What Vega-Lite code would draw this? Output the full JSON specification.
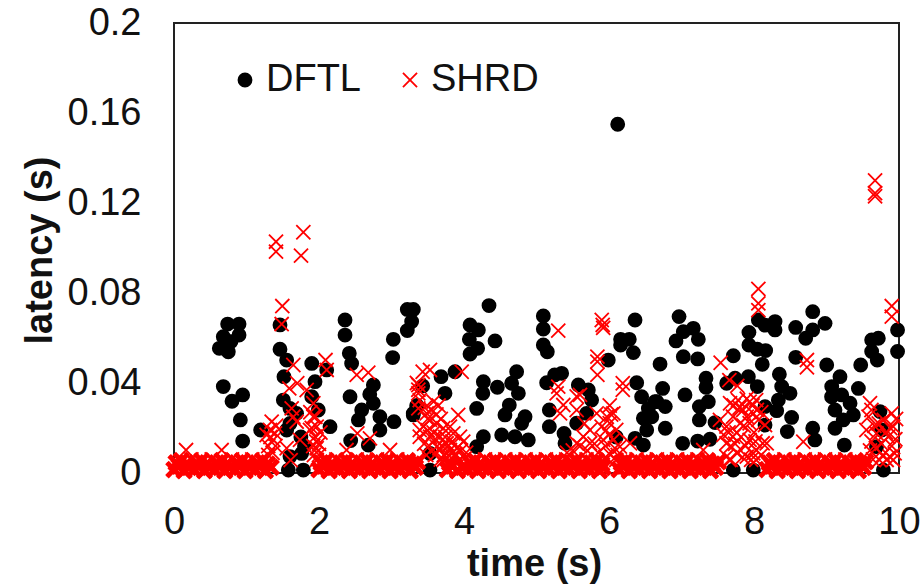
{"$schema":"https://vega.github.io/schema/vega-lite/v6.json","width":725,"height":450,"autosize":"none","padding":{"left":174,"top":23,"right":24,"bottom":111},"background":"white",
"config":{"font":"Liberation Sans","view":{"stroke":"#222","strokeWidth":2}},
"data":{"values":[
{"s":"DFTL","t":0.74,"v":0.0662},{"s":"DFTL","t":0.897,"v":0.0662},{"s":"DFTL","t":0.68,"v":0.0606},{"s":"DFTL","t":0.897,"v":0.0613},{"s":"DFTL","t":0.786,"v":0.0584},{"s":"DFTL","t":0.625,"v":0.0554},{"s":"DFTL","t":0.749,"v":0.0539},{"s":"DFTL","t":0.68,"v":0.0384},{"s":"DFTL","t":0.947,"v":0.0347},{"s":"DFTL","t":0.8,"v":0.0319},{"s":"DFTL","t":0.915,"v":0.0236},{"s":"DFTL","t":0.947,"v":0.0142},{"s":"DFTL","t":1.195,"v":0.0191},{"s":"DFTL","t":1.462,"v":0.0658},{"s":"DFTL","t":1.462,"v":0.055},{"s":"DFTL","t":1.554,"v":0.0502},{"s":"DFTL","t":1.517,"v":0.0428},{"s":"DFTL","t":1.508,"v":0.0324},{"s":"DFTL","t":1.6,"v":0.0287},{"s":"DFTL","t":1.69,"v":0.0265},{"s":"DFTL","t":1.554,"v":0.0191},{"s":"DFTL","t":1.6,"v":0.0073},{"s":"DFTL","t":1.76,"v":0.0087},{"s":"DFTL","t":1.784,"v":0.0013},{"s":"DFTL","t":1.577,"v":0.0013},{"s":"DFTL","t":1.9,"v":0.0487},{"s":"DFTL","t":1.945,"v":0.0406},{"s":"DFTL","t":1.9,"v":0.0339},{"s":"DFTL","t":1.99,"v":0.028},{"s":"DFTL","t":2.152,"v":0.0206},{"s":"DFTL","t":2.359,"v":0.068},{"s":"DFTL","t":2.359,"v":0.0613},{"s":"DFTL","t":2.418,"v":0.0532},{"s":"DFTL","t":2.45,"v":0.0487},{"s":"DFTL","t":2.106,"v":0.0458},{"s":"DFTL","t":2.428,"v":0.0339},{"s":"DFTL","t":2.75,"v":0.0391},{"s":"DFTL","t":2.75,"v":0.031},{"s":"DFTL","t":2.589,"v":0.028},{"s":"DFTL","t":2.543,"v":0.0236},{"s":"DFTL","t":2.84,"v":0.025},{"s":"DFTL","t":3.034,"v":0.0228},{"s":"DFTL","t":2.84,"v":0.0191},{"s":"DFTL","t":2.437,"v":0.0144},{"s":"DFTL","t":2.68,"v":0.0124},{"s":"DFTL","t":3.025,"v":0.0594},{"s":"DFTL","t":3.016,"v":0.0513},{"s":"DFTL","t":3.218,"v":0.0727},{"s":"DFTL","t":3.301,"v":0.0727},{"s":"DFTL","t":3.278,"v":0.0673},{"s":"DFTL","t":3.218,"v":0.0633},{"s":"DFTL","t":3.3,"v":0.0265},{"s":"DFTL","t":1.6,"v":0.022},{"s":"DFTL","t":1.75,"v":0.016},{"s":"DFTL","t":1.8,"v":0.012},{"s":"DFTL","t":2.7,"v":0.035},{"s":"DFTL","t":3.35,"v":0.03},{"s":"DFTL","t":4.345,"v":0.0744},{"s":"DFTL","t":4.083,"v":0.0658},{"s":"DFTL","t":4.198,"v":0.0636},{"s":"DFTL","t":4.074,"v":0.0594},{"s":"DFTL","t":4.428,"v":0.0587},{"s":"DFTL","t":4.188,"v":0.0554},{"s":"DFTL","t":4.083,"v":0.0529},{"s":"DFTL","t":5.094,"v":0.0698},{"s":"DFTL","t":5.094,"v":0.064},{"s":"DFTL","t":5.094,"v":0.0569},{"s":"DFTL","t":5.149,"v":0.0539},{"s":"DFTL","t":6.359,"v":0.068},{"s":"DFTL","t":5.99,"v":0.0502},{"s":"DFTL","t":6.16,"v":0.0569},{"s":"DFTL","t":6.28,"v":0.0594},{"s":"DFTL","t":6.336,"v":0.0535},{"s":"DFTL","t":6.16,"v":0.0594},{"s":"DFTL","t":6.704,"v":0.0484},{"s":"DFTL","t":3.683,"v":0.0428},{"s":"DFTL","t":3.876,"v":0.045},{"s":"DFTL","t":3.43,"v":0.0387},{"s":"DFTL","t":3.738,"v":0.0354},{"s":"DFTL","t":3.35,"v":0.0295},{"s":"DFTL","t":3.3,"v":0.0258},{"s":"DFTL","t":4.267,"v":0.0406},{"s":"DFTL","t":4.26,"v":0.0354},{"s":"DFTL","t":4.46,"v":0.0381},{"s":"DFTL","t":4.726,"v":0.045},{"s":"DFTL","t":4.657,"v":0.0399},{"s":"DFTL","t":4.75,"v":0.0354},{"s":"DFTL","t":4.175,"v":0.0287},{"s":"DFTL","t":4.625,"v":0.0302},{"s":"DFTL","t":4.565,"v":0.0258},{"s":"DFTL","t":4.842,"v":0.025},{"s":"DFTL","t":4.795,"v":0.0221},{"s":"DFTL","t":4.52,"v":0.0169},{"s":"DFTL","t":4.703,"v":0.0161},{"s":"DFTL","t":4.267,"v":0.0161},{"s":"DFTL","t":4.887,"v":0.0147},{"s":"DFTL","t":4.175,"v":0.0117},{"s":"DFTL","t":5.14,"v":0.0401},{"s":"DFTL","t":5.347,"v":0.0443},{"s":"DFTL","t":5.25,"v":0.0436},{"s":"DFTL","t":5.577,"v":0.0391},{"s":"DFTL","t":5.715,"v":0.0369},{"s":"DFTL","t":5.76,"v":0.0324},{"s":"DFTL","t":5.69,"v":0.0265},{"s":"DFTL","t":5.554,"v":0.0221},{"s":"DFTL","t":5.177,"v":0.028},{"s":"DFTL","t":5.177,"v":0.0206},{"s":"DFTL","t":5.38,"v":0.0176},{"s":"DFTL","t":5.393,"v":0.0132},{"s":"DFTL","t":6.382,"v":0.0401},{"s":"DFTL","t":6.45,"v":0.0339},{"s":"DFTL","t":6.74,"v":0.0376},{"s":"DFTL","t":6.66,"v":0.0317},{"s":"DFTL","t":6.776,"v":0.0295},{"s":"DFTL","t":6.543,"v":0.0287},{"s":"DFTL","t":6.474,"v":0.0243},{"s":"DFTL","t":6.59,"v":0.025},{"s":"DFTL","t":6.52,"v":0.0191},{"s":"DFTL","t":6.776,"v":0.0199},{"s":"DFTL","t":6.359,"v":0.0154},{"s":"DFTL","t":6.474,"v":0.0124},{"s":"DFTL","t":3.531,"v":0.0087},{"s":"DFTL","t":3.531,"v":0.0013},{"s":"DFTL","t":6.1,"v":0.016},{"s":"DFTL","t":6.966,"v":0.0695},{"s":"DFTL","t":7.163,"v":0.0643},{"s":"DFTL","t":7.025,"v":0.0628},{"s":"DFTL","t":6.924,"v":0.0587},{"s":"DFTL","t":7.232,"v":0.0594},{"s":"DFTL","t":7.025,"v":0.0517},{"s":"DFTL","t":7.223,"v":0.0507},{"s":"DFTL","t":7.048,"v":0.0347},{"s":"DFTL","t":6.634,"v":0.0317},{"s":"DFTL","t":7.338,"v":0.0421},{"s":"DFTL","t":7.338,"v":0.0381},{"s":"DFTL","t":7.37,"v":0.0317},{"s":"DFTL","t":7.246,"v":0.0295},{"s":"DFTL","t":7.246,"v":0.0236},{"s":"DFTL","t":7.463,"v":0.0224},{"s":"DFTL","t":7.016,"v":0.0132},{"s":"DFTL","t":7.223,"v":0.0142},{"s":"DFTL","t":7.393,"v":0.015},{"s":"DFTL","t":7.715,"v":0.0521},{"s":"DFTL","t":7.623,"v":0.0399},{"s":"DFTL","t":7.738,"v":0.0421},{"s":"DFTL","t":7.715,"v":0.0013},{"s":"DFTL","t":7.99,"v":0.0013},{"s":"DFTL","t":7.93,"v":0.0625},{"s":"DFTL","t":7.93,"v":0.0569},{"s":"DFTL","t":8.06,"v":0.068},{"s":"DFTL","t":8.152,"v":0.0657},{"s":"DFTL","t":8.29,"v":0.0673},{"s":"DFTL","t":8.29,"v":0.0636},{"s":"DFTL","t":8.046,"v":0.055},{"s":"DFTL","t":8.161,"v":0.0544},{"s":"DFTL","t":8.114,"v":0.0483},{"s":"DFTL","t":7.922,"v":0.0428},{"s":"DFTL","t":8.046,"v":0.0384},{"s":"DFTL","t":8.35,"v":0.0439},{"s":"DFTL","t":8.382,"v":0.0384},{"s":"DFTL","t":8.497,"v":0.0354},{"s":"DFTL","t":8.336,"v":0.0324},{"s":"DFTL","t":8.313,"v":0.0277},{"s":"DFTL","t":8.152,"v":0.0295},{"s":"DFTL","t":8.152,"v":0.0213},{"s":"DFTL","t":8.519,"v":0.0247},{"s":"DFTL","t":8.46,"v":0.0184},{"s":"DFTL","t":8.575,"v":0.0647},{"s":"DFTL","t":8.81,"v":0.0717},{"s":"DFTL","t":8.98,"v":0.0665},{"s":"DFTL","t":8.81,"v":0.0636},{"s":"DFTL","t":8.713,"v":0.0599},{"s":"DFTL","t":8.575,"v":0.0514},{"s":"DFTL","t":9.003,"v":0.048},{"s":"DFTL","t":9.186,"v":0.0428},{"s":"DFTL","t":9.472,"v":0.048},{"s":"DFTL","t":9.072,"v":0.0384},{"s":"DFTL","t":9.44,"v":0.0376},{"s":"DFTL","t":9.07,"v":0.0339},{"s":"DFTL","t":9.21,"v":0.0347},{"s":"DFTL","t":9.117,"v":0.028},{"s":"DFTL","t":9.325,"v":0.031},{"s":"DFTL","t":9.37,"v":0.0258},{"s":"DFTL","t":9.23,"v":0.0236},{"s":"DFTL","t":9.117,"v":0.0199},{"s":"DFTL","t":8.81,"v":0.0199},{"s":"DFTL","t":8.84,"v":0.0147},{"s":"DFTL","t":9.246,"v":0.0124},{"s":"DFTL","t":9.623,"v":0.0591},{"s":"DFTL","t":9.715,"v":0.0599},{"s":"DFTL","t":9.623,"v":0.054},{"s":"DFTL","t":9.7,"v":0.0502},{"s":"DFTL","t":9.98,"v":0.0636},{"s":"DFTL","t":9.98,"v":0.054},{"s":"DFTL","t":9.738,"v":0.0273},{"s":"DFTL","t":9.76,"v":0.0191},{"s":"DFTL","t":9.785,"v":0.0013},{"s":"DFTL","t":9.69,"v":0.0117},{"s":"DFTL","t":6.12,"v":0.155},
{"s":"SHRD","t":1.407,"v":0.1028},{"s":"SHRD","t":1.407,"v":0.0984},{"s":"SHRD","t":1.784,"v":0.107},{"s":"SHRD","t":1.752,"v":0.0966},{"s":"SHRD","t":1.494,"v":0.0742},{"s":"SHRD","t":1.485,"v":0.0662},{"s":"SHRD","t":1.646,"v":0.048},{"s":"SHRD","t":2.09,"v":0.0502},{"s":"SHRD","t":2.106,"v":0.0458},{"s":"SHRD","t":1.7,"v":0.0399},{"s":"SHRD","t":1.59,"v":0.0376},{"s":"SHRD","t":1.83,"v":0.0369},{"s":"SHRD","t":2.52,"v":0.0436},{"s":"SHRD","t":2.68,"v":0.0446},{"s":"SHRD","t":1.922,"v":0.031},{"s":"SHRD","t":1.623,"v":0.0287},{"s":"SHRD","t":1.347,"v":0.0228},{"s":"SHRD","t":1.324,"v":0.0191},{"s":"SHRD","t":1.393,"v":0.0176},{"s":"SHRD","t":1.278,"v":0.0169},{"s":"SHRD","t":1.37,"v":0.0147},{"s":"SHRD","t":1.646,"v":0.025},{"s":"SHRD","t":1.692,"v":0.0228},{"s":"SHRD","t":1.922,"v":0.025},{"s":"SHRD","t":1.968,"v":0.0206},{"s":"SHRD","t":1.876,"v":0.0191},{"s":"SHRD","t":1.945,"v":0.0161},{"s":"SHRD","t":1.968,"v":0.011},{"s":"SHRD","t":1.738,"v":0.0147},{"s":"SHRD","t":1.554,"v":0.011},{"s":"SHRD","t":1.609,"v":0.0057},{"s":"SHRD","t":2.529,"v":0.0176},{"s":"SHRD","t":2.703,"v":0.0154},{"s":"SHRD","t":0.166,"v":0.0102},{"s":"SHRD","t":0.657,"v":0.0102},{"s":"SHRD","t":2.98,"v":0.0102},{"s":"SHRD","t":2.38,"v":0.0102},{"s":"SHRD","t":3.37,"v":0.0391},{"s":"SHRD","t":3.37,"v":0.0354},{"s":"SHRD","t":3.37,"v":0.0287},{"s":"SHRD","t":3.39,"v":0.0191},{"s":"SHRD","t":1.93,"v":0.008},{"s":"SHRD","t":1.97,"v":0.0058},{"s":"SHRD","t":2.0,"v":0.013},{"s":"SHRD","t":1.3,"v":0.012},{"s":"SHRD","t":1.36,"v":0.009},{"s":"SHRD","t":5.3,"v":0.0633},{"s":"SHRD","t":5.9,"v":0.068},{"s":"SHRD","t":5.913,"v":0.0658},{"s":"SHRD","t":5.92,"v":0.0645},{"s":"SHRD","t":5.84,"v":0.0517},{"s":"SHRD","t":5.84,"v":0.0495},{"s":"SHRD","t":5.84,"v":0.0436},{"s":"SHRD","t":6.19,"v":0.0399},{"s":"SHRD","t":6.19,"v":0.037},{"s":"SHRD","t":3.968,"v":0.045},{"s":"SHRD","t":3.531,"v":0.0458},{"s":"SHRD","t":3.43,"v":0.045},{"s":"SHRD","t":3.35,"v":0.04},{"s":"SHRD","t":3.37,"v":0.037},{"s":"SHRD","t":3.39,"v":0.0324},{"s":"SHRD","t":3.58,"v":0.0317},{"s":"SHRD","t":3.65,"v":0.03},{"s":"SHRD","t":3.92,"v":0.0258},{"s":"SHRD","t":3.485,"v":0.0265},{"s":"SHRD","t":5.3,"v":0.0384},{"s":"SHRD","t":5.278,"v":0.0354},{"s":"SHRD","t":5.554,"v":0.034},{"s":"SHRD","t":5.6,"v":0.0347},{"s":"SHRD","t":5.37,"v":0.0302},{"s":"SHRD","t":5.554,"v":0.028},{"s":"SHRD","t":5.325,"v":0.0265},{"s":"SHRD","t":5.83,"v":0.0265},{"s":"SHRD","t":6.01,"v":0.03},{"s":"SHRD","t":6.06,"v":0.0265},{"s":"SHRD","t":5.97,"v":0.025},{"s":"SHRD","t":3.44,"v":0.0206},{"s":"SHRD","t":3.531,"v":0.0236},{"s":"SHRD","t":3.623,"v":0.0221},{"s":"SHRD","t":3.715,"v":0.0199},{"s":"SHRD","t":3.807,"v":0.0206},{"s":"SHRD","t":3.853,"v":0.0176},{"s":"SHRD","t":3.945,"v":0.0161},{"s":"SHRD","t":3.531,"v":0.0161},{"s":"SHRD","t":3.669,"v":0.0161},{"s":"SHRD","t":3.761,"v":0.0132},{"s":"SHRD","t":3.99,"v":0.0139},{"s":"SHRD","t":3.623,"v":0.0117},{"s":"SHRD","t":3.807,"v":0.0102},{"s":"SHRD","t":3.39,"v":0.0161},{"s":"SHRD","t":3.5,"v":0.019},{"s":"SHRD","t":3.58,"v":0.018},{"s":"SHRD","t":3.7,"v":0.012},{"s":"SHRD","t":3.6,"v":0.008},{"s":"SHRD","t":3.68,"v":0.006},{"s":"SHRD","t":3.72,"v":0.0058},{"s":"SHRD","t":5.646,"v":0.0161},{"s":"SHRD","t":5.738,"v":0.0191},{"s":"SHRD","t":5.554,"v":0.0132},{"s":"SHRD","t":5.898,"v":0.0206},{"s":"SHRD","t":6.01,"v":0.0221},{"s":"SHRD","t":6.1,"v":0.0191},{"s":"SHRD","t":6.06,"v":0.0147},{"s":"SHRD","t":5.92,"v":0.0147},{"s":"SHRD","t":6.15,"v":0.0117},{"s":"SHRD","t":6.29,"v":0.0132},{"s":"SHRD","t":5.738,"v":0.0132},{"s":"SHRD","t":8.06,"v":0.0818},{"s":"SHRD","t":8.06,"v":0.0754},{"s":"SHRD","t":8.06,"v":0.0724},{"s":"SHRD","t":7.54,"v":0.049},{"s":"SHRD","t":7.66,"v":0.0413},{"s":"SHRD","t":7.77,"v":0.0387},{"s":"SHRD","t":8.73,"v":0.0502},{"s":"SHRD","t":8.73,"v":0.047},{"s":"SHRD","t":9.9,"v":0.0742},{"s":"SHRD","t":9.9,"v":0.0695},{"s":"SHRD","t":9.6,"v":0.031},{"s":"SHRD","t":9.58,"v":0.025},{"s":"SHRD","t":9.9,"v":0.0265},{"s":"SHRD","t":9.79,"v":0.0236},{"s":"SHRD","t":9.92,"v":0.0206},{"s":"SHRD","t":9.55,"v":0.0191},{"s":"SHRD","t":9.69,"v":0.0176},{"s":"SHRD","t":9.85,"v":0.0161},{"s":"SHRD","t":9.94,"v":0.0087},{"s":"SHRD","t":9.83,"v":0.0058},{"s":"SHRD","t":9.87,"v":0.0073},{"s":"SHRD","t":9.73,"v":0.0058},{"s":"SHRD","t":8.152,"v":0.0213},{"s":"SHRD","t":8.68,"v":0.0139},{"s":"SHRD","t":8.175,"v":0.0132},{"s":"SHRD","t":7.53,"v":0.0236},{"s":"SHRD","t":7.67,"v":0.031},{"s":"SHRD","t":7.78,"v":0.0324},{"s":"SHRD","t":7.94,"v":0.0317},{"s":"SHRD","t":8.03,"v":0.0324},{"s":"SHRD","t":7.85,"v":0.028},{"s":"SHRD","t":7.99,"v":0.0265},{"s":"SHRD","t":7.71,"v":0.025},{"s":"SHRD","t":7.62,"v":0.0206},{"s":"SHRD","t":7.81,"v":0.0221},{"s":"SHRD","t":7.94,"v":0.0221},{"s":"SHRD","t":8.06,"v":0.0236},{"s":"SHRD","t":7.71,"v":0.0161},{"s":"SHRD","t":7.62,"v":0.0132},{"s":"SHRD","t":7.94,"v":0.0147},{"s":"SHRD","t":8.03,"v":0.0102},{"s":"SHRD","t":8.12,"v":0.0132},{"s":"SHRD","t":7.62,"v":0.0073},{"s":"SHRD","t":7.9,"v":0.0073},{"s":"SHRD","t":8.03,"v":0.0058},{"s":"SHRD","t":7.66,"v":0.0058},{"s":"SHRD","t":7.99,"v":0.0087},{"s":"SHRD","t":7.3,"v":0.0102},{"s":"SHRD","t":9.67,"v":0.13},{"s":"SHRD","t":9.67,"v":0.1244},{"s":"SHRD","t":9.67,"v":0.123},
{"s":"SHRD","t":3.46,"v":0.029},{"s":"SHRD","t":3.55,"v":0.028},{"s":"SHRD","t":3.62,"v":0.026},{"s":"SHRD","t":3.68,"v":0.024},{"s":"SHRD","t":3.5,"v":0.024},{"s":"SHRD","t":3.6,"v":0.015},{"s":"SHRD","t":3.66,"v":0.011},{"s":"SHRD","t":3.74,"v":0.016},{"s":"SHRD","t":3.78,"v":0.012},{"s":"SHRD","t":3.84,"v":0.014},{"s":"SHRD","t":3.9,"v":0.011},{"s":"SHRD","t":3.96,"v":0.01},{"s":"SHRD","t":4.03,"v":0.009},{"s":"SHRD","t":3.72,"v":0.008},{"s":"SHRD","t":3.8,"v":0.0075},{"s":"SHRD","t":3.88,"v":0.0085},{"s":"SHRD","t":3.45,"v":0.013},{"s":"SHRD","t":3.52,"v":0.012},{"s":"SHRD","t":3.48,"v":0.008},{"s":"SHRD","t":7.58,"v":0.017},{"s":"SHRD","t":7.65,"v":0.018},{"s":"SHRD","t":7.68,"v":0.012},{"s":"SHRD","t":7.74,"v":0.013},{"s":"SHRD","t":7.76,"v":0.018},{"s":"SHRD","t":7.82,"v":0.016},{"s":"SHRD","t":7.86,"v":0.021},{"s":"SHRD","t":7.9,"v":0.025},{"s":"SHRD","t":7.98,"v":0.03},{"s":"SHRD","t":8.0,"v":0.018},{"s":"SHRD","t":8.1,"v":0.027},{"s":"SHRD","t":8.02,"v":0.014},{"s":"SHRD","t":7.88,"v":0.012},{"s":"SHRD","t":7.76,"v":0.009},{"s":"SHRD","t":7.84,"v":0.007},{"s":"SHRD","t":7.68,"v":0.0059},{"s":"SHRD","t":7.96,"v":0.0059},{"s":"SHRD","t":8.1,"v":0.008},{"s":"SHRD","t":7.72,"v":0.03},{"s":"SHRD","t":7.8,"v":0.029},{"s":"SHRD","t":7.9,"v":0.033},{"s":"SHRD","t":8.04,"v":0.028},{"s":"SHRD","t":9.62,"v":0.028},{"s":"SHRD","t":9.66,"v":0.021},{"s":"SHRD","t":9.72,"v":0.022},{"s":"SHRD","t":9.62,"v":0.014},{"s":"SHRD","t":9.68,"v":0.011},{"s":"SHRD","t":9.76,"v":0.013},{"s":"SHRD","t":9.82,"v":0.018},{"s":"SHRD","t":9.88,"v":0.02},{"s":"SHRD","t":9.96,"v":0.024},{"s":"SHRD","t":9.95,"v":0.015},{"s":"SHRD","t":9.9,"v":0.012},{"s":"SHRD","t":9.78,"v":0.008},{"s":"SHRD","t":9.6,"v":0.01},{"s":"SHRD","t":9.64,"v":0.006},{"s":"SHRD","t":9.92,"v":0.0058},{"s":"SHRD","t":5.6,"v":0.012},{"s":"SHRD","t":5.7,"v":0.01},{"s":"SHRD","t":5.66,"v":0.022},{"s":"SHRD","t":5.8,"v":0.013},{"s":"SHRD","t":5.85,"v":0.009},{"s":"SHRD","t":5.95,"v":0.012},{"s":"SHRD","t":6.0,"v":0.017},{"s":"SHRD","t":6.03,"v":0.026},{"s":"SHRD","t":5.96,"v":0.019},{"s":"SHRD","t":6.08,"v":0.011},{"s":"SHRD","t":6.12,"v":0.008},{"s":"SHRD","t":6.02,"v":0.008},{"s":"SHRD","t":5.5,"v":0.01},{"s":"SHRD","t":5.42,"v":0.009},{"s":"SHRD","t":5.95,"v":0.007},{"s":"SHRD","t":6.1,"v":0.0058},{"s":"SHRD","t":1.33,"v":0.016},{"s":"SHRD","t":1.41,"v":0.021},{"s":"SHRD","t":1.3,"v":0.008},{"s":"SHRD","t":1.4,"v":0.012},{"s":"SHRD","t":1.9,"v":0.02},{"s":"SHRD","t":1.96,"v":0.014},{"s":"SHRD","t":1.92,"v":0.012},{"s":"SHRD","t":2.02,"v":0.018},{"s":"SHRD","t":1.95,"v":0.025},{"s":"SHRD","t":2.0,"v":0.008},{"s":"SHRD","t":1.88,"v":0.027},
{"s":"SHRD","t":0.0,"v":0.0015},{"s":"SHRD","t":0.03,"v":0.0045},{"s":"SHRD","t":0.07,"v":0.003},{"s":"SHRD","t":0.1,"v":0.0055},{"s":"SHRD","t":0.14,"v":0.001},{"s":"SHRD","t":0.17,"v":0.004},{"s":"SHRD","t":0.21,"v":0.0025},{"s":"SHRD","t":0.24,"v":0.006},{"s":"SHRD","t":0.28,"v":0.0015},{"s":"SHRD","t":0.31,"v":0.0045},{"s":"SHRD","t":0.35,"v":0.003},{"s":"SHRD","t":0.38,"v":0.0055},{"s":"SHRD","t":0.42,"v":0.001},{"s":"SHRD","t":0.45,"v":0.004},{"s":"SHRD","t":0.49,"v":0.0025},{"s":"SHRD","t":0.52,"v":0.006},{"s":"SHRD","t":0.56,"v":0.0015},{"s":"SHRD","t":0.59,"v":0.0045},{"s":"SHRD","t":0.63,"v":0.003},{"s":"SHRD","t":0.66,"v":0.0055},{"s":"SHRD","t":0.7,"v":0.001},{"s":"SHRD","t":0.73,"v":0.004},{"s":"SHRD","t":0.77,"v":0.0025},{"s":"SHRD","t":0.8,"v":0.006},{"s":"SHRD","t":0.84,"v":0.0015},{"s":"SHRD","t":0.87,"v":0.0045},{"s":"SHRD","t":0.91,"v":0.003},{"s":"SHRD","t":0.94,"v":0.0055},{"s":"SHRD","t":0.98,"v":0.001},{"s":"SHRD","t":1.01,"v":0.004},{"s":"SHRD","t":1.05,"v":0.0025},{"s":"SHRD","t":1.08,"v":0.006},{"s":"SHRD","t":1.12,"v":0.0015},{"s":"SHRD","t":1.15,"v":0.0045},{"s":"SHRD","t":1.19,"v":0.003},{"s":"SHRD","t":1.22,"v":0.0055},{"s":"SHRD","t":1.26,"v":0.001},{"s":"SHRD","t":1.29,"v":0.004},{"s":"SHRD","t":1.34,"v":0.0025},
{"s":"SHRD","t":2.0,"v":0.0015},{"s":"SHRD","t":2.03,"v":0.0045},{"s":"SHRD","t":2.07,"v":0.003},{"s":"SHRD","t":2.1,"v":0.0055},{"s":"SHRD","t":2.14,"v":0.001},{"s":"SHRD","t":2.17,"v":0.004},{"s":"SHRD","t":2.21,"v":0.0025},{"s":"SHRD","t":2.24,"v":0.006},{"s":"SHRD","t":2.28,"v":0.0015},{"s":"SHRD","t":2.31,"v":0.0045},{"s":"SHRD","t":2.35,"v":0.003},{"s":"SHRD","t":2.38,"v":0.0055},{"s":"SHRD","t":2.42,"v":0.001},{"s":"SHRD","t":2.45,"v":0.004},{"s":"SHRD","t":2.49,"v":0.0025},{"s":"SHRD","t":2.52,"v":0.006},{"s":"SHRD","t":2.56,"v":0.0015},{"s":"SHRD","t":2.59,"v":0.0045},{"s":"SHRD","t":2.63,"v":0.003},{"s":"SHRD","t":2.66,"v":0.0055},{"s":"SHRD","t":2.7,"v":0.001},{"s":"SHRD","t":2.73,"v":0.004},{"s":"SHRD","t":2.77,"v":0.0025},{"s":"SHRD","t":2.8,"v":0.006},{"s":"SHRD","t":2.84,"v":0.0015},{"s":"SHRD","t":2.87,"v":0.0045},{"s":"SHRD","t":2.91,"v":0.003},{"s":"SHRD","t":2.94,"v":0.0055},{"s":"SHRD","t":2.98,"v":0.001},{"s":"SHRD","t":3.01,"v":0.004},{"s":"SHRD","t":3.05,"v":0.0025},{"s":"SHRD","t":3.08,"v":0.006},{"s":"SHRD","t":3.12,"v":0.0015},{"s":"SHRD","t":3.15,"v":0.0045},{"s":"SHRD","t":3.19,"v":0.003},{"s":"SHRD","t":3.22,"v":0.0055},{"s":"SHRD","t":3.26,"v":0.001},{"s":"SHRD","t":3.29,"v":0.004},{"s":"SHRD","t":3.33,"v":0.0025},{"s":"SHRD","t":3.36,"v":0.005},
{"s":"SHRD","t":3.77,"v":0.0015},{"s":"SHRD","t":3.8,"v":0.0045},{"s":"SHRD","t":3.84,"v":0.003},{"s":"SHRD","t":3.87,"v":0.0075},{"s":"SHRD","t":3.91,"v":0.001},{"s":"SHRD","t":3.94,"v":0.006},{"s":"SHRD","t":3.98,"v":0.0025},{"s":"SHRD","t":4.01,"v":0.0065},{"s":"SHRD","t":4.05,"v":0.0015},{"s":"SHRD","t":4.08,"v":0.0045},{"s":"SHRD","t":4.12,"v":0.003},{"s":"SHRD","t":4.15,"v":0.0055},{"s":"SHRD","t":4.19,"v":0.001},{"s":"SHRD","t":4.22,"v":0.004},{"s":"SHRD","t":4.26,"v":0.0025},{"s":"SHRD","t":4.29,"v":0.006},{"s":"SHRD","t":4.33,"v":0.0015},{"s":"SHRD","t":4.36,"v":0.0045},{"s":"SHRD","t":4.4,"v":0.003},{"s":"SHRD","t":4.43,"v":0.0055},{"s":"SHRD","t":4.47,"v":0.001},{"s":"SHRD","t":4.5,"v":0.004},{"s":"SHRD","t":4.54,"v":0.0025},{"s":"SHRD","t":4.57,"v":0.006},{"s":"SHRD","t":4.61,"v":0.0015},{"s":"SHRD","t":4.64,"v":0.0045},{"s":"SHRD","t":4.68,"v":0.003},{"s":"SHRD","t":4.71,"v":0.0055},{"s":"SHRD","t":4.75,"v":0.001},{"s":"SHRD","t":4.78,"v":0.004},{"s":"SHRD","t":4.82,"v":0.0025},{"s":"SHRD","t":4.85,"v":0.006},{"s":"SHRD","t":4.89,"v":0.0015},{"s":"SHRD","t":4.92,"v":0.0045},{"s":"SHRD","t":4.96,"v":0.003},{"s":"SHRD","t":4.99,"v":0.0055},{"s":"SHRD","t":5.03,"v":0.001},{"s":"SHRD","t":5.06,"v":0.004},{"s":"SHRD","t":5.1,"v":0.0025},{"s":"SHRD","t":5.13,"v":0.006},{"s":"SHRD","t":5.17,"v":0.0015},{"s":"SHRD","t":5.2,"v":0.0045},{"s":"SHRD","t":5.24,"v":0.003},{"s":"SHRD","t":5.27,"v":0.0055},{"s":"SHRD","t":5.31,"v":0.001},{"s":"SHRD","t":5.34,"v":0.004},{"s":"SHRD","t":5.38,"v":0.0025},{"s":"SHRD","t":5.41,"v":0.006},{"s":"SHRD","t":5.45,"v":0.0015},{"s":"SHRD","t":5.48,"v":0.0045},{"s":"SHRD","t":5.52,"v":0.003},{"s":"SHRD","t":5.55,"v":0.0055},{"s":"SHRD","t":5.59,"v":0.001},{"s":"SHRD","t":5.62,"v":0.004},{"s":"SHRD","t":5.66,"v":0.0025},{"s":"SHRD","t":5.69,"v":0.006},{"s":"SHRD","t":5.73,"v":0.0015},{"s":"SHRD","t":5.76,"v":0.0045},{"s":"SHRD","t":5.8,"v":0.003},{"s":"SHRD","t":5.83,"v":0.0055},{"s":"SHRD","t":5.87,"v":0.001},{"s":"SHRD","t":5.9,"v":0.004},{"s":"SHRD","t":5.92,"v":0.0025},
{"s":"SHRD","t":6.14,"v":0.0015},{"s":"SHRD","t":6.17,"v":0.0045},{"s":"SHRD","t":6.21,"v":0.003},{"s":"SHRD","t":6.24,"v":0.0055},{"s":"SHRD","t":6.28,"v":0.001},{"s":"SHRD","t":6.31,"v":0.004},{"s":"SHRD","t":6.35,"v":0.0025},{"s":"SHRD","t":6.38,"v":0.006},{"s":"SHRD","t":6.42,"v":0.0015},{"s":"SHRD","t":6.45,"v":0.0045},{"s":"SHRD","t":6.49,"v":0.003},{"s":"SHRD","t":6.52,"v":0.0055},{"s":"SHRD","t":6.56,"v":0.001},{"s":"SHRD","t":6.59,"v":0.004},{"s":"SHRD","t":6.63,"v":0.0025},{"s":"SHRD","t":6.66,"v":0.006},{"s":"SHRD","t":6.7,"v":0.0015},{"s":"SHRD","t":6.73,"v":0.0045},{"s":"SHRD","t":6.77,"v":0.003},{"s":"SHRD","t":6.8,"v":0.0055},{"s":"SHRD","t":6.84,"v":0.001},{"s":"SHRD","t":6.87,"v":0.004},{"s":"SHRD","t":6.91,"v":0.0025},{"s":"SHRD","t":6.94,"v":0.006},{"s":"SHRD","t":6.98,"v":0.0015},{"s":"SHRD","t":7.01,"v":0.0045},{"s":"SHRD","t":7.05,"v":0.003},{"s":"SHRD","t":7.08,"v":0.0055},{"s":"SHRD","t":7.12,"v":0.001},{"s":"SHRD","t":7.15,"v":0.004},{"s":"SHRD","t":7.19,"v":0.0025},{"s":"SHRD","t":7.22,"v":0.006},{"s":"SHRD","t":7.26,"v":0.0015},{"s":"SHRD","t":7.29,"v":0.0045},{"s":"SHRD","t":7.33,"v":0.003},{"s":"SHRD","t":7.36,"v":0.0055},{"s":"SHRD","t":7.4,"v":0.001},{"s":"SHRD","t":7.43,"v":0.004},{"s":"SHRD","t":7.47,"v":0.0025},{"s":"SHRD","t":7.51,"v":0.005},
{"s":"SHRD","t":8.18,"v":0.0015},{"s":"SHRD","t":8.21,"v":0.0045},{"s":"SHRD","t":8.25,"v":0.003},{"s":"SHRD","t":8.28,"v":0.0055},{"s":"SHRD","t":8.32,"v":0.001},{"s":"SHRD","t":8.35,"v":0.004},{"s":"SHRD","t":8.39,"v":0.0025},{"s":"SHRD","t":8.42,"v":0.006},{"s":"SHRD","t":8.46,"v":0.0015},{"s":"SHRD","t":8.49,"v":0.0045},{"s":"SHRD","t":8.53,"v":0.003},{"s":"SHRD","t":8.56,"v":0.0055},{"s":"SHRD","t":8.6,"v":0.001},{"s":"SHRD","t":8.63,"v":0.004},{"s":"SHRD","t":8.67,"v":0.0025},{"s":"SHRD","t":8.7,"v":0.006},{"s":"SHRD","t":8.74,"v":0.0015},{"s":"SHRD","t":8.77,"v":0.0045},{"s":"SHRD","t":8.81,"v":0.003},{"s":"SHRD","t":8.84,"v":0.0055},{"s":"SHRD","t":8.88,"v":0.001},{"s":"SHRD","t":8.91,"v":0.004},{"s":"SHRD","t":8.95,"v":0.0025},{"s":"SHRD","t":8.98,"v":0.006},{"s":"SHRD","t":9.02,"v":0.0015},{"s":"SHRD","t":9.05,"v":0.0045},{"s":"SHRD","t":9.09,"v":0.003},{"s":"SHRD","t":9.12,"v":0.0055},{"s":"SHRD","t":9.16,"v":0.001},{"s":"SHRD","t":9.19,"v":0.004},{"s":"SHRD","t":9.23,"v":0.0025},{"s":"SHRD","t":9.26,"v":0.006},{"s":"SHRD","t":9.3,"v":0.0015},{"s":"SHRD","t":9.33,"v":0.0045},{"s":"SHRD","t":9.37,"v":0.003},{"s":"SHRD","t":9.4,"v":0.0055},{"s":"SHRD","t":9.44,"v":0.001},{"s":"SHRD","t":9.47,"v":0.004},{"s":"SHRD","t":9.51,"v":0.0025},{"s":"SHRD","t":9.54,"v":0.005}
]},
"encoding":{
"x":{"field":"t","type":"quantitative","scale":{"domain":[0,10],"nice":false},"axis":{"values":[0,2,4,6,8,10],"grid":false,"domain":false,"ticks":false,"labelFontSize":38,"labelColor":"#111","labelPadding":30,"labelOverlap":false,"labelFlush":false,"title":"time (s)","titleFontSize":38,"titleFontWeight":"bold","titleColor":"#111","titleX":360,"titleY":102,"titleBaseline":"alphabetic"}},
"y":{"field":"v","type":"quantitative","scale":{"domain":[0,0.2],"nice":false},"axis":{"values":[0,0.04,0.08,0.12,0.16,0.2],"format":".2~f","grid":false,"domain":false,"ticks":false,"labelFontSize":38,"labelColor":"#111","labelPadding":33,"labelOverlap":false,"labelFlush":false,"title":"latency (s)","titleFontSize":38,"titleFontWeight":"bold","titleColor":"#111","titleX":-115,"titleY":227}},
"shape":{"field":"s","type":"nominal","scale":{"domain":["DFTL","SHRD"],"range":["circle","M-1.08,-1.08L1.08,1.08M-1.08,1.08L1.08,-1.08"]},"legend":{"title":null,"orient":"none","legendX":52,"legendY":38,"direction":"horizontal","columns":2,"labelFontSize":38,"labelColor":"#111","symbolSize":170,"symbolStrokeWidth":1.8,"labelOffset":2,"columnPadding":30,"symbolOpacity":1}},
"fill":{"field":"s","type":"nominal","scale":{"domain":["DFTL","SHRD"],"range":["#000000","transparent"]}},
"stroke":{"field":"s","type":"nominal","scale":{"domain":["DFTL","SHRD"],"range":["#000000","#ff0000"]}}
},
"layer":[
{"mark":{"type":"point","size":170,"strokeWidth":1.8,"opacity":1,"clip":false}},
{"transform":[{"filter":"datum.s=='SHRD' && datum.v<=0.0055"}],"mark":{"type":"point","size":170,"strokeWidth":5,"opacity":1,"clip":false}}
]}
